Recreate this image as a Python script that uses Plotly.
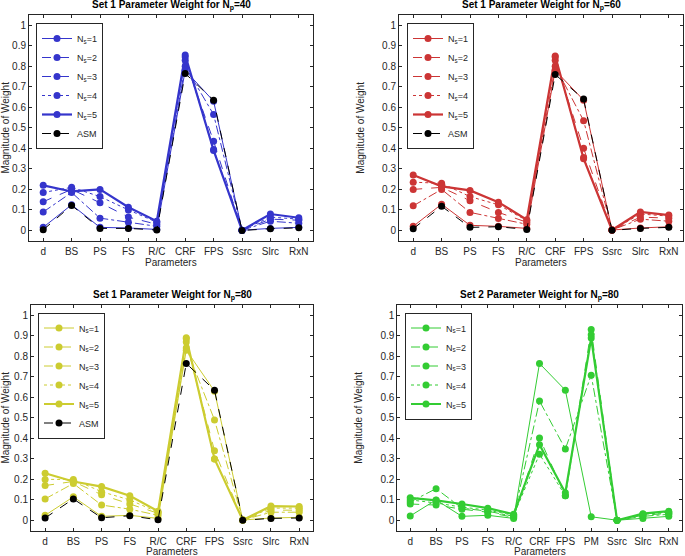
import plotly.graph_objects as go

# ---------------- data ----------------
cats_set1 = ["d", "BS", "PS", "FS", "R/C", "CRF", "FPS", "Ssrc", "Slrc", "RxN"]
cats_set2 = ["d", "BS", "PS", "FS", "R/C", "CRF", "FPS", "PM", "Ssrc", "Slrc", "RxN"]

# Set 1, Np = 40
np40_ns1 = [0.015, 0.125, 0.015, 0.012, 0.005, 0.780, 0.630, 0.001, 0.010, 0.015]
np40_ns2 = [0.090, 0.185, 0.060, 0.040, 0.020, 0.800, 0.565, 0.001, 0.045, 0.035]
np40_ns3 = [0.140, 0.200, 0.135, 0.065, 0.030, 0.830, 0.435, 0.001, 0.055, 0.050]
np40_ns4 = [0.185, 0.210, 0.165, 0.100, 0.040, 0.845, 0.395, 0.001, 0.065, 0.055]
np40_ns5 = [0.220, 0.190, 0.200, 0.113, 0.045, 0.855, 0.390, 0.001, 0.080, 0.062]
np40_asm = [0.003, 0.122, 0.010, 0.010, 0.002, 0.765, 0.635, 0.000, 0.008, 0.013]

# Set 1, Np = 60
np60_ns1 = [0.020, 0.128, 0.025, 0.020, 0.010, 0.780, 0.635, 0.002, 0.012, 0.018]
np60_ns2 = [0.120, 0.200, 0.088, 0.058, 0.030, 0.800, 0.535, 0.002, 0.055, 0.045]
np60_ns3 = [0.200, 0.210, 0.145, 0.088, 0.040, 0.830, 0.400, 0.002, 0.065, 0.060]
np60_ns4 = [0.235, 0.230, 0.165, 0.125, 0.048, 0.845, 0.355, 0.002, 0.080, 0.070]
np60_ns5 = [0.270, 0.215, 0.195, 0.138, 0.052, 0.850, 0.350, 0.002, 0.090, 0.075]
np60_asm = [0.008, 0.118, 0.015, 0.018, 0.005, 0.760, 0.640, 0.001, 0.010, 0.015]

# Set 1, Np = 80
np80_ns1 = [0.025, 0.115, 0.020, 0.025, 0.010, 0.830, 0.630, 0.002, 0.012, 0.015]
np80_ns2 = [0.105, 0.180, 0.075, 0.055, 0.025, 0.840, 0.490, 0.002, 0.040, 0.040]
np80_ns3 = [0.170, 0.190, 0.125, 0.080, 0.035, 0.870, 0.340, 0.002, 0.050, 0.050]
np80_ns4 = [0.200, 0.200, 0.140, 0.100, 0.040, 0.885, 0.300, 0.002, 0.060, 0.060]
np80_ns5 = [0.230, 0.190, 0.165, 0.120, 0.045, 0.890, 0.300, 0.002, 0.070, 0.068]
np80_asm = [0.012, 0.105, 0.013, 0.023, 0.003, 0.765, 0.635, 0.001, 0.010, 0.012]

# Set 2, Np = 80
s2_ns1 = [0.022, 0.100, 0.020, 0.025, 0.010, 0.765, 0.635, 0.018, 0.001, 0.010, 0.020]
s2_ns2 = [0.090, 0.155, 0.060, 0.045, 0.020, 0.582, 0.348, 0.708, 0.001, 0.020, 0.030]
s2_ns3 = [0.080, 0.075, 0.055, 0.040, 0.015, 0.402, 0.120, 0.931, 0.001, 0.025, 0.035]
s2_ns4 = [0.100, 0.085, 0.065, 0.050, 0.025, 0.323, 0.120, 0.905, 0.001, 0.030, 0.040]
s2_ns5 = [0.110, 0.098, 0.080, 0.060, 0.030, 0.369, 0.135, 0.889, 0.001, 0.033, 0.045]

series_names = ["N<sub>s</sub>=1", "N<sub>s</sub>=2", "N<sub>s</sub>=3", "N<sub>s</sub>=4", "N<sub>s</sub>=5"]
asm_name = "ASM"

panel_titles = [
    "Set 1 Parameter Weight for N<sub>p</sub>=40",
    "Set 1 Parameter Weight for N<sub>p</sub>=60",
    "Set 1 Parameter Weight for N<sub>p</sub>=80",
    "Set 2 Parameter Weight for N<sub>p</sub>=80",
]
y_title = "Magnitude of Weight"
x_title = "Parameters"

# ---------------- styles ----------------
W, H = 685, 556
FONT = "Liberation Sans, Arial, Helvetica, sans-serif"
colors = ["#3535CC", "#CC3535", "#CCCC30", "#33CC33"]
dashes = ["solid", "dashdot", "dash", "dot", "solid"]
widths = [1, 1, 1, 1, 2.2]

# plot areas in pixels (left, right, top, bottom)
areas = [
    (29, 313, 15, 240.7),
    (399, 683, 15, 240.7),
    (31, 313.3, 305, 530.7),
    (397.3, 681.7, 305, 530.7),
]
xtitle_y = [263, 263, 551.5, 551.5]
legend_pos = [(36, 23), (407, 23), (38, 312.5), (405, 312.5)]

panels = [
    (cats_set1, [np40_ns1, np40_ns2, np40_ns3, np40_ns4, np40_ns5], np40_asm),
    (cats_set1, [np60_ns1, np60_ns2, np60_ns3, np60_ns4, np60_ns5], np60_asm),
    (cats_set1, [np80_ns1, np80_ns2, np80_ns3, np80_ns4, np80_ns5], np80_asm),
    (cats_set2, [s2_ns1, s2_ns2, s2_ns3, s2_ns4, s2_ns5], None),
]

fig = go.Figure()
layout = dict(
    width=W, height=H, margin=dict(l=0, r=0, t=0, b=0, autoexpand=False),
    paper_bgcolor="white", plot_bgcolor="white",
    font=dict(family=FONT, size=10, color="#262626"),
    annotations=[],
)

for i, (cats, series, asm) in enumerate(panels):
    k = i + 1
    xa = "x" if k == 1 else f"x{k}"
    ya = "y" if k == 1 else f"y{k}"
    lg = "legend" if k == 1 else f"legend{k}"
    for j, vals in enumerate(series):
        fig.add_trace(go.Scatter(
            x=cats, y=vals, mode="lines+markers", name=series_names[j],
            xaxis=xa, yaxis=ya, legend=lg,
            line=dict(color=colors[i], width=widths[j], dash=dashes[j]),
            marker=dict(color=colors[i], size=7, symbol="circle"),
        ))
    if asm is not None:
        fig.add_trace(go.Scatter(
            x=cats, y=asm, mode="lines+markers", name=asm_name,
            xaxis=xa, yaxis=ya, legend=lg,
            line=dict(color="black", width=1, dash="dash"),
            marker=dict(color="black", size=7, symbol="circle"),
        ))

    l, r, t, b = areas[i]
    xdom = [l / W, r / W]
    ydom = [1 - b / H, 1 - t / H]
    axis_common = dict(
        showline=True, linecolor="#262626", linewidth=1, mirror="ticks",
        ticks="inside", ticklen=3, tickcolor="#262626", showgrid=False,
        zeroline=False, automargin=False,
        tickfont=dict(family=FONT, size=10, color="#262626"),
    )
    layout["xaxis" if k == 1 else f"xaxis{k}"] = dict(
        domain=xdom, anchor=ya, type="category",
        categoryorder="array", categoryarray=cats,
        range=[-0.5, len(cats) - 0.5], ticklabelstandoff=1,
        **axis_common,
    )
    layout["yaxis" if k == 1 else f"yaxis{k}"] = dict(
        domain=ydom, anchor=xa, range=[-0.05, 1.05], tick0=0, dtick=0.1,
        title=dict(text=y_title, font=dict(size=10)),
        **axis_common,
    )
    lx, ly = legend_pos[i]
    layout[lg] = dict(
        x=lx / W, y=1 - ly / H, xanchor="left", yanchor="top",
        bordercolor="#262626", borderwidth=1, bgcolor="white",
        font=dict(family=FONT, size=9, color="#262626"),
        itemwidth=30, tracegroupgap=0,
    )
    layout["annotations"].append(dict(
        text=f"<b>{panel_titles[i]}</b>", x=(l + r) / 2 / W, y=1 - t / H,
        xref="paper", yref="paper", xanchor="center", yanchor="bottom",
        showarrow=False, yshift=1, font=dict(family=FONT, size=10, color="black"),
    ))
    layout["annotations"].append(dict(
        text=x_title, x=(l + r) / 2 / W, y=1 - xtitle_y[i] / H,
        xref="paper", yref="paper", xanchor="center", yanchor="middle",
        showarrow=False, font=dict(family=FONT, size=10, color="#262626"),
    ))

fig.update_layout(**layout)
fig.write_html(
    "out.html",
    config={"displayModeBar": False},
    post_script="document.body.style.margin='0px';document.body.style.overflow='hidden';",
)
